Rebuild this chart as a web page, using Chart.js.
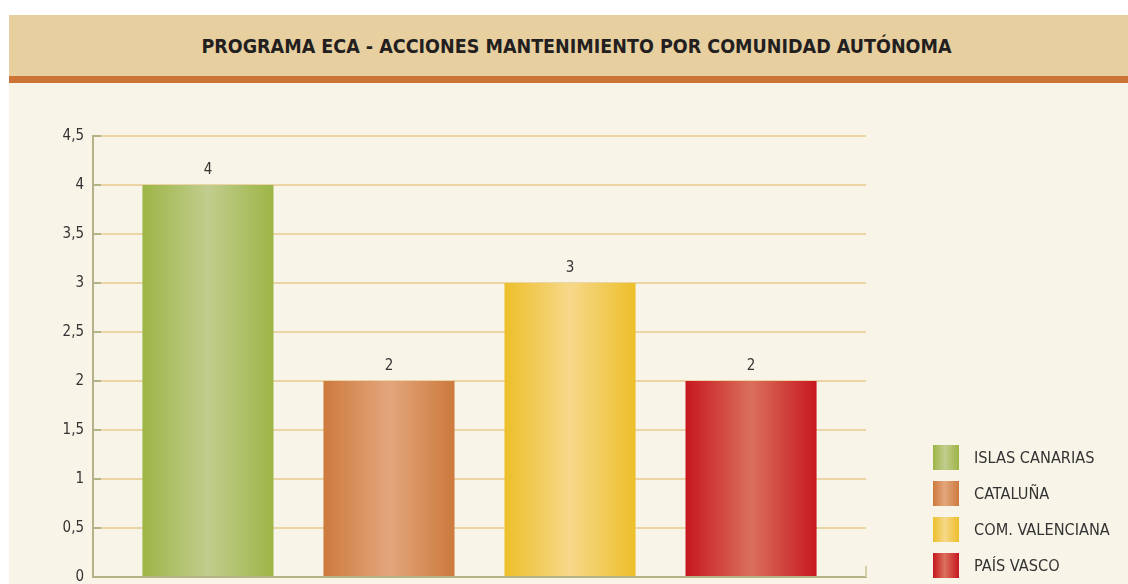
<!DOCTYPE html>
<html>
<head>
<meta charset="utf-8">
<script src="https://cdn.jsdelivr.net/npm/chart.js@4.4.1/dist/chart.umd.min.js"></script>
<style>
  html, body { margin: 0; padding: 0; background: #ffffff; overflow: hidden; }
  #page { position: relative; width: 1128px; height: 584px; }
  #band { position: absolute; left: 9px; top: 15px; width: 1119px; height: 61px; background: #E8CFA0; }
  #band h1 { margin: 0; position: absolute; left: 16px; right: 0; top: 0; line-height: 63px; text-align: center;
    font-family: 'DejaVu Sans Condensed', sans-serif; font-weight: bold; font-size: 19.5px; color: #231f20; }
  #stripe { position: absolute; left: 9px; top: 76px; width: 1119px; height: 7px; background: #CC7438; }
  #body { position: absolute; left: 9px; top: 83px; width: 1119px; height: 501px; background: #F8F5E8; }
  #wrap { position: absolute; left: 0; top: 83px; width: 1128px; height: 501px; }
  #legend { position: absolute; left: 933px; top: 445px; font-family: 'DejaVu Sans Condensed', sans-serif; font-size: 16.2px; color: #333; }
  .item { position: relative; height: 25px; margin-bottom: 11px; }
  .box { position: absolute; left: 0; top: 0; width: 26px; height: 25px; }
  .lbl { position: absolute; left: 41px; top: 0; line-height: 25px; white-space: nowrap; }
</style>
</head>
<body>
<div id="page">
  <div id="band"><h1>PROGRAMA ECA - ACCIONES MANTENIMIENTO POR COMUNIDAD AUTÓNOMA</h1></div>
  <div id="stripe"></div>
  <div id="body"></div>
  <div id="wrap"><canvas id="chart" width="1128" height="501"></canvas></div>
  <div id="legend"></div>
</div>
<script>
// data
var regions = ["ISLAS CANARIAS", "CATALUÑA", "COM. VALENCIANA", "PAÍS VASCO"];
var actions = [4, 2, 3, 2];
var yTicks = [0, 0.5, 1, 1.5, 2, 2.5, 3, 3.5, 4, 4.5];

// edge / centre colour of each bar's gradient
var edgeColors = ["#9DB546", "#CD7A3D", "#EDBF2A", "#C7171F"];
var midColors = ["#C1CD8E", "#E3A67C", "#F6D88A", "#DA705C"];

var FONT = "'DejaVu Sans Condensed', sans-serif";
var BAR_PCT = 0.724;

// legend in html, one row per region
var legend = document.getElementById('legend');
regions.forEach(function (name, i) {
  var row = document.createElement('div');
  row.className = 'item';
  row.innerHTML = '<div class="box" style="background:linear-gradient(to right,' + edgeColors[i] + ',' +
    midColors[i] + ' 45%,' + edgeColors[i] + ')"></div><div class="lbl">' + name + '</div>';
  legend.appendChild(row);
});

/*******************************
* Horizontal gradient for a bar, from the x scale
*******************************/
function barFill(ctx) {
  var i = ctx.datasetIndex;
  var xs = ctx.chart.scales.x;
  if (!xs || !ctx.raw) return edgeColors[i];
  var cx = xs.getPixelForValue(ctx.raw.x);
  var half = (xs.getPixelForValue(1) - xs.getPixelForValue(0)) * BAR_PCT / 2;
  if (!isFinite(cx) || !isFinite(half) || half <= 0) return edgeColors[i];
  var g = ctx.chart.ctx.createLinearGradient(cx - half, 0, cx + half, 0);
  g.addColorStop(0, edgeColors[i]);
  g.addColorStop(0.5, midColors[i]);
  g.addColorStop(1, edgeColors[i]);
  return g;
}

var datasets = regions.map(function (name, i) {
  return {
    label: name,
    data: [{x: i, y: actions[i]}],
    backgroundColor: barFill,
    borderWidth: 0,
    grouped: false,
    barPercentage: BAR_PCT,
    categoryPercentage: 1
  };
});

// value above each bar + small inner ticks on the axes
var extras = {
  id: 'extras',
  afterDraw: function (chart) {
    var c = chart.ctx, ys = chart.scales.y, area = chart.chartArea;
    c.save();
    c.strokeStyle = '#B4B287';
    c.lineWidth = 2;
    yTicks.forEach(function (t) {
      if (t === 0) return;
      var py = ys.getPixelForValue(t);
      c.beginPath(); c.moveTo(area.left, py); c.lineTo(area.left + 8, py); c.stroke();
    });
    c.strokeStyle = '#D3CFA6';
    c.beginPath(); c.moveTo(area.right, area.bottom); c.lineTo(area.right, area.bottom - 11); c.stroke();

    c.fillStyle = '#333333';
    c.font = '15px ' + FONT;
    c.textAlign = 'center';
    c.textBaseline = 'middle';
    chart.data.datasets.forEach(function (ds, di) {
      chart.getDatasetMeta(di).data.forEach(function (el, k) {
        c.fillText(String(ds.data[k].y), el.x, el.y - 15);
      });
    });
    c.restore();
  }
};

new Chart("chart", {
  type: "bar",
  data: { datasets: datasets },
  plugins: [extras],
  options: {
    responsive: false,
    animation: false,
    layout: { padding: { top: 53, right: 262, bottom: 7, left: 0 } },
    plugins: { legend: { display: false }, tooltip: { enabled: false } },
    scales: {
      x: {
        type: 'linear',
        offset: false,
        min: -0.635,
        max: 3.635,
        afterBuildTicks: function (s) { s.ticks = regions.map(function (r, i) { return {value: i}; }); },
        afterFit: function (s) { s.height = 0; s.paddingLeft = 0; s.paddingRight = 0; },
        ticks: { display: false },
        grid: { display: false },
        border: { display: true, color: '#B4B287', width: 2 }
      },
      y: {
        min: 0,
        max: 4.5,
        afterBuildTicks: function (s) { s.ticks = yTicks.map(function (v) { return {value: v}; }); },
        afterFit: function (s) { s.width = 93; s.paddingTop = 0; s.paddingBottom = 0; },
        ticks: {
          padding: 9,
          color: '#333333',
          font: { size: 15, family: FONT },
          callback: function (v) { return String(v).replace('.', ','); }
        },
        grid: { color: '#EBD4A6', lineWidth: 2, drawTicks: false },
        border: { color: '#B4B287', width: 2 }
      }
    }
  }
});
</script>
</body>
</html>
